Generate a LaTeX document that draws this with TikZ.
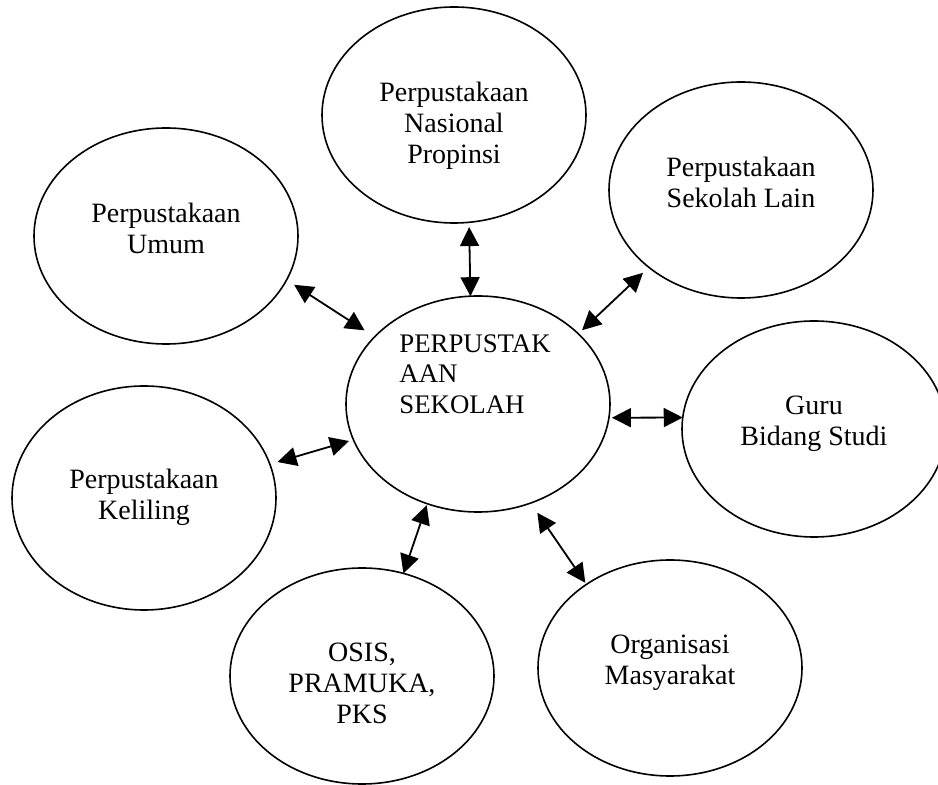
\documentclass[tikz,border=0pt]{standalone}
\usepackage{fontspec}
\setmainfont{Liberation Serif}
\usepackage{tikz}
\usetikzlibrary{positioning,shapes.geometric,arrows.meta}
\tikzset{
bubble/.style={draw=black,line width=0.8pt,ellipse,minimum width=132pt,minimum height=108pt,inner sep=0pt,outer sep=0pt},
bubtext/.style={inner sep=0pt,align=center,font=\fontsize{14}{15.3}\selectfont},
hubtext/.style={inner sep=0pt,align=left,font=\fontsize{13.4}{15.3}\selectfont},
linkarrow/.style={{Triangle[length=9.5pt,width=9.5pt]}-{Triangle[length=9.5pt,width=9.5pt]},line width=0.9pt,black}
}

\begin{document}
\begin{tikzpicture}[x=0.5pt,y=-0.5pt]
\clip (0,0) rectangle (938,785);
% ellipses
\node[bubble] (pusat) at (478,404) {};
\node[bubble] (umum) at (166,236) {};
\node[bubble] (nasional) at (454,115) {};
\node[bubble] (lain) at (741,190) {};
\node[bubble] (guru) at (814,429) {};
\node[bubble,minimum height=112pt] (keliling) at (144,498) {};
\node[bubble] (osis) at (362,676) {};
\node[bubble] (ormas) at (670,668) {};
% texts
\node[hubtext,anchor=north west] (pusattxt) at (399,334) {PERPUSTAK\\AAN\\SEKOLAH};
\node[bubtext,below=37.5pt of umum.north] (umumtxt) {Perpustakaan\\Umum};
\node[bubtext,below=37.5pt of nasional.north] (nasionaltxt) {Perpustakaan\\Nasional\\Propinsi};
\node[bubtext,below=37.5pt of lain.north] (laintxt) {Perpustakaan\\Sekolah Lain};
\node[bubtext,below=37.5pt of guru.north] (gurutxt) {Guru\\Bidang Studi};
\node[bubtext,below=41.5pt of keliling.north] (kelilingtxt) {Perpustakaan\\Keliling};
\node[bubtext,below=37.5pt of osis.north] (osistxt) {OSIS,\\PRAMUKA,\\PKS};
\node[bubtext,below=37.5pt of ormas.north] (ormastxt) {Organisasi\\Masyarakat};
% arrows
\draw[linkarrow,shorten <=4.5pt,shorten >=6pt] (umum.-20) -- (pusat.147);
\draw[linkarrow,shorten <=2.4pt] (nasional.-82) -- (pusat.94);
\draw[linkarrow,shorten <=4pt,shorten >=2.6pt] (lain.-140) -- (pusat.35);
\draw[linkarrow,shorten <=1.5pt] (pusat.-6) -- (guru.175);
\draw[linkarrow,shorten <=4pt,shorten >=2.3pt] (keliling.15) -- (pusat.-164);
\draw[linkarrow,shorten <=0.8pt] (pusat.-117) -- (osis.68);
\draw[linkarrow,shorten <=5.9pt,shorten >=1pt] (pusat.-62) -- (ormas.135);
\end{tikzpicture}
\end{document}
